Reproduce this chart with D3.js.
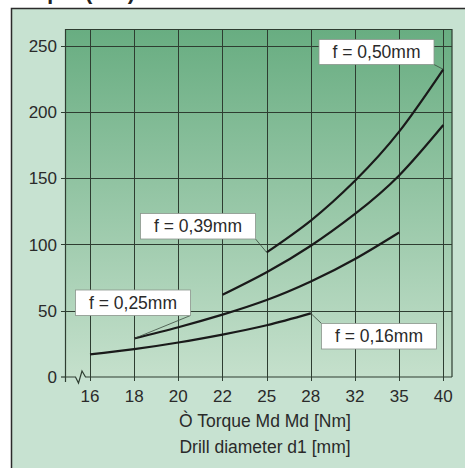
<!DOCTYPE html>
<html><head><meta charset="utf-8">
<script src="https://cdn.jsdelivr.net/npm/d3@7"></script>
<style>html,body{margin:0;padding:0;background:#fff;}svg{display:block;font-family:"Liberation Sans",Arial,Helvetica,sans-serif;}</style>
</head><body>
<script>
// ---- data ----
const categories = ["16","18","20","22","25","28","32","35","40"];
const yTicks = [0,50,100,150,200,250];
const f016 = [17,21,26,32,39,48,null,null,null];
const f025 = [null,29,37.5,47,58,72,89,109,null];
const f039 = [null,null,null,62,79,99,123,152,190];
const f050 = [null,null,null,null,94,118,148,185,232];
const seriesNames = ["f = 0,16mm","f = 0,25mm","f = 0,39mm","f = 0,50mm"];
const titleText = "Torque (Nm)";
const xTitle1 = "Ò Torque Md Md [Nm]";
const xTitle2 = "Drill diameter d1 [mm]";

// ---- layout ----
const W=465,H=468;
const svg=d3.select("body").append("svg").attr("width",W).attr("height",H);
const defs=svg.append("defs");
const g=defs.append("linearGradient").attr("id","bg").attr("x1",0).attr("y1",0).attr("x2",0).attr("y2",1);
g.append("stop").attr("offset","0%").attr("stop-color","#68ad81");
g.append("stop").attr("offset","100%").attr("stop-color","#c5e0cc");

// outer panel
svg.append("rect").attr("x",11).attr("y",8).attr("width",W).attr("height",H).attr("fill","#c7e2d1");
svg.append("path").attr("d",`M11.5,${H}V8.5H${W}`).attr("fill","none").attr("stroke","#2b2b2b").attr("stroke-width",1.5);
// title (cut off at top, as in the reference)
svg.append("text").attr("x",6).attr("y",-1).attr("font-weight","bold").attr("font-size",22).attr("fill","#222").text(titleText);

const plotL=65, plotR=452, plotT=29;
const x=d3.scalePoint().domain(categories).range([90,443.3]);
const y=d3.scaleLinear().domain([0,250]).range([377,45.5]);
const plotB=y(0);

svg.append("rect").attr("x",plotL).attr("y",plotT).attr("width",plotR-plotL).attr("height",plotB-plotT).attr("fill","url(#bg)");

const gridC="#2e3d31";
svg.append("g").selectAll("line").data(yTicks.filter(v=>v>0)).join("line")
 .attr("x1",plotL-4).attr("x2",plotR).attr("y1",d=>Math.round(y(d))+0.5).attr("y2",d=>Math.round(y(d))+0.5)
 .attr("stroke",gridC).attr("stroke-width",1);
svg.append("line").attr("x1",x(categories[0])).attr("x2",plotR).attr("y1",plotB).attr("y2",plotB).attr("stroke",gridC).attr("stroke-width",1.2);
svg.append("line").attr("x1",plotL-4).attr("x2",plotL).attr("y1",plotB).attr("y2",plotB).attr("stroke",gridC).attr("stroke-width",1.2);
svg.append("path").attr("d",`M${plotL},${plotB}H75.5L78.5,${plotB+6}L82,${plotB-6}L85.5,${plotB}H${x(categories[0])}`)
 .attr("fill","none").attr("stroke",gridC).attr("stroke-width",1.2);
svg.append("g").selectAll("line").data(categories).join("line")
 .attr("x1",d=>Math.round(x(d))+0.5).attr("x2",d=>Math.round(x(d))+0.5).attr("y1",plotT).attr("y2",plotB+4)
 .attr("stroke",gridC).attr("stroke-width",1);
svg.append("line").attr("x1",plotL+0.5).attr("x2",plotL+0.5).attr("y1",plotT).attr("y2",plotB+5).attr("stroke",gridC).attr("stroke-width",1.2);
svg.append("line").attr("x1",plotR).attr("x2",plotR).attr("y1",plotT).attr("y2",plotB).attr("stroke",gridC).attr("stroke-width",1.2);
svg.append("line").attr("x1",plotL).attr("x2",plotR).attr("y1",plotT+0.5).attr("y2",plotT+0.5).attr("stroke",gridC).attr("stroke-width",1.2);

svg.append("g").selectAll("text").data(yTicks).join("text")
 .attr("x",57).attr("y",d=>y(d)+6.3).attr("text-anchor","end").attr("font-size",17).attr("fill","#2a2a2a").text(d=>d);
svg.append("g").selectAll("text").data(categories).join("text")
 .attr("x",d=>x(d)).attr("y",401.5).attr("text-anchor","middle").attr("font-size",17).attr("fill","#2a2a2a").text(d=>d);
svg.append("text").attr("x",265).attr("y",427).attr("text-anchor","middle").attr("font-size",17.5).attr("fill","#2a2a2a").text(xTitle1);
svg.append("text").attr("x",265).attr("y",452.5).attr("text-anchor","middle").attr("font-size",17.5).attr("fill","#2a2a2a").text(xTitle2);

const line=d3.line().defined(d=>d.v!=null).x(d=>x(d.c)).y(d=>y(d.v)).curve(d3.curveNatural);
[f016,f025,f039,f050].forEach(s=>{
  const pts=categories.map((c,i)=>({c,v:s[i]})).filter(d=>d.v!=null);
  svg.append("path").attr("d",line(pts)).attr("fill","none").attr("stroke","#1a1a1a").attr("stroke-width",2.2);
});
function endPt(s,first){
  const idx=categories.map((c,i)=>i).filter(i=>s[i]!=null);
  const i=first?idx[0]:idx[idx.length-1];
  return [x(categories[i]),y(s[i])];
}
const labels=[
  {t:seriesNames[3],bx:319,by:39.5,bw:115,bh:25,from:[434,64.5],to:endPt(f050,false)},
  {t:seriesNames[2],bx:140.5,by:213.5,bw:115,bh:25.5,from:[255.5,239],to:endPt(f050,true)},
  {t:seriesNames[1],bx:75.5,by:290,bw:115,bh:25.5,from:[190.5,315.5],to:endPt(f025,true)},
  {t:seriesNames[0],bx:321.5,by:323.5,bw:115,bh:25.5,from:[321.5,323.5],to:endPt(f016,false)}
];
labels.forEach(l=>{
  svg.append("line").attr("x1",l.from[0]).attr("y1",l.from[1]).attr("x2",l.to[0]).attr("y2",l.to[1])
    .attr("stroke","#3a4a3e").attr("stroke-width",0.8);
  svg.append("rect").attr("x",l.bx).attr("y",l.by).attr("width",l.bw).attr("height",l.bh)
    .attr("fill","#fff").attr("stroke","#8a948c").attr("stroke-width",0.8);
  svg.append("text").attr("x",l.bx+l.bw/2).attr("y",l.by+l.bh/2+6.2).attr("text-anchor","middle")
    .attr("font-size",17.5).attr("fill","#2a2a2a").text(l.t);
});
</script>
</body></html>
